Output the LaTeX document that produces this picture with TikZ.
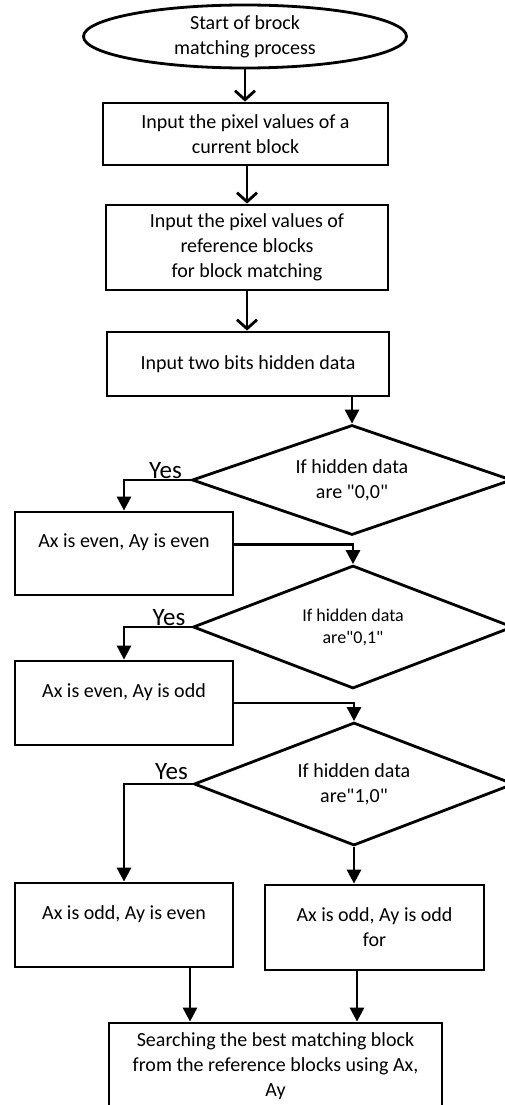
\documentclass[tikz,border=0pt]{standalone}
\usepackage{fontspec}
\setmainfont{Carlito}
\usetikzlibrary{arrows.meta,shapes.geometric,calc}
\begin{document}
\begin{tikzpicture}[x=1pt,y=-1pt,
  every node/.style={font=\fontsize{20}{25}\selectfont, align=center, inner sep=0pt},
  procbox/.style={draw, line width=2.8pt, rectangle},
  decbox/.style={draw, line width=2.8pt, diamond, minimum width=320pt, aspect=2.8},
  conn/.style={line width=2.8pt, -{Triangle[length=14pt,width=14pt]}},
  vconn/.style={line width=2.8pt, -{Straight Barb[length=9pt,width=20pt]}},
  yeslabel/.style={font=\fontsize{25}{30}\selectfont, anchor=base}
]
\useasboundingbox[fill=white] (0,0) rectangle (504,1105);

\node[draw, ellipse, line width=2.8pt, minimum width=323pt, minimum height=63pt] (start) at (245,36.5) {Start of brock\\matching process};
\node[procbox, minimum width=285pt, minimum height=62pt] (box2) at (245.5,134) {Input the pixel values of a\\current block};
\node[procbox, minimum width=282pt, minimum height=85pt] (box3) at (247,247.5) {Input the pixel values of\\reference blocks\\for block matching};
\node[procbox, minimum width=282pt, minimum height=64pt] (box4) at (248,364) {Input two bits hidden data};

\node[decbox, minimum height=110pt] (d1) at (352,480) {If hidden data\\are \textquotedbl 0,0\textquotedbl};
\node[procbox, minimum width=218pt, minimum height=83pt] (box5) at (124,553.5) {Ax is even, Ay is even\\\phantom{A}};

\node[decbox, minimum height=123pt, font=\fontsize{18}{22}\selectfont] (d2) at (353,627) {If hidden data\\are\textquotedbl 0,1\textquotedbl};
\node[procbox, minimum width=218pt, minimum height=84pt] (box6) at (124,703) {Ax is even, Ay is odd\\\phantom{A}};

\node[decbox, minimum height=123pt] (d3) at (354,784) {If hidden data\\are\textquotedbl 1,0\textquotedbl};
\node[procbox, minimum width=218pt, minimum height=84pt] (box7) at (124,925) {Ax is odd, Ay is even\\\phantom{A}};
\node[procbox, minimum width=219pt, minimum height=85pt] (box8) at (374.5,927.5) {Ax is odd, Ay is odd\\for};

\node[procbox, minimum width=333pt, minimum height=86pt] (box9) at (275.5,1066) {Searching the best matching block\\from the reference blocks using Ax,\\Ay};

\node[yeslabel] (yes1) at (165.5,478) {Yes};
\node[yeslabel] (yes2) at (169,625) {Yes};
\node[yeslabel] (yes3) at (171.5,779) {Yes};

\draw[vconn] (start.south) -- (start.south |- box2.north);
\draw[vconn] (box3.north |- box2.south) -- (box3.north);
\draw[vconn] (box3.south) -- (box3.south |- box4.north);
\draw[conn] (d1.north |- box4.south) -- (d1.north);
\draw[conn] (d1.west) -| (box5.north);
\draw[conn] ([yshift=9pt]box5.east) -| (d2.north);
\draw[conn] (d2.west) -| (box6.north);
\draw[conn] (box6.east) -| (d3.north);
\draw[conn] (d3.west) -| (box7.north);
\draw[conn] (d3.south) -- (d3.south |- box8.north);
\draw[conn] ([xshift=66pt]box7.south) -- ([xshift=66pt]box7.south |- box9.north);
\draw[conn] ([xshift=-17.5pt]box8.south) -- ([xshift=-17.5pt]box8.south |- box9.north);
\end{tikzpicture}
\end{document}
